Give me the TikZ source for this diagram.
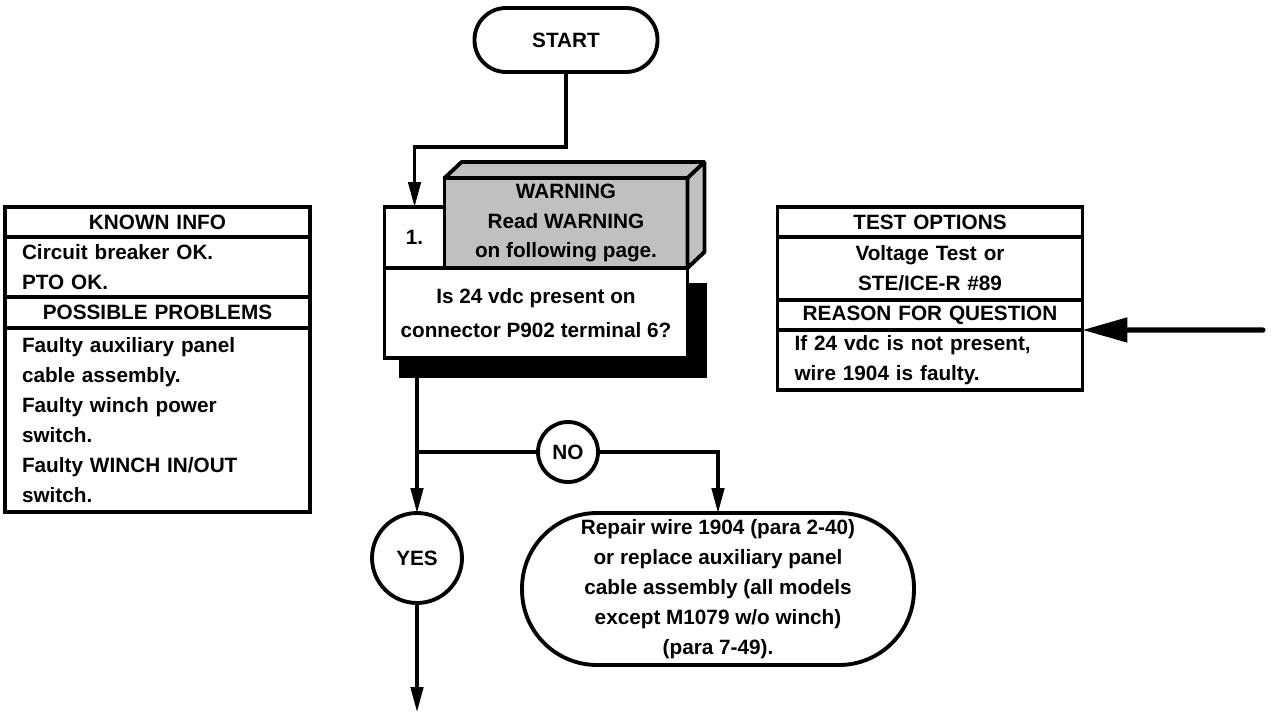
\documentclass[tikz,border=0pt]{standalone}
\usepackage{fontspec}
\setmainfont{Liberation Sans}
\usetikzlibrary{arrows.meta,positioning,calc,backgrounds}
\definecolor{cWarn}{HTML}{C0C0C0}

\begin{document}
\begin{tikzpicture}[
  x=0.02cm, y=-0.02cm,
  font=\fontsize{11.8pt}{17pt}\selectfont\bfseries,
  box/.style={draw, line width=2.2pt, outer sep=0pt, inner sep=0pt, align=center},
  terminal/.style={box, rounded corners=0.63cm, minimum width=3.66cm, minimum height=1.28cm},
  stepno/.style={box, minimum width=1.2cm, minimum height=1.22cm},
  warnbox/.style={box, fill=cWarn, minimum width=4.86cm, minimum height=1.8cm},
  quest/.style={box, fill=white, minimum width=6.06cm, minimum height=1.8cm},
  answer/.style={box, circle, minimum size=#1},
  repairbox/.style={box, rounded corners=1.5cm, minimum width=7.84cm, minimum height=3.04cm},
  infocell/.style={draw, line width=2.2pt, outer sep=0pt, inner ysep=0pt, inner xsep=0.34cm,
                   text width=5.42cm},
  infohead/.style={infocell, align=center, minimum height=0.6cm},
  infobody/.style={infocell, align=left},
  conn/.style={line width=1.8pt},
  arr/.style={conn, -{Triangle[length=0.5cm, width=0.25cm]}},
  bigarr/.style={line width=2.9pt, line cap=round, -{Triangle[length=0.9cm, width=0.48cm]}},
]
\useasboundingbox (0,0) rectangle (1273,713);

% ---------- start ----------
\node[terminal] (start) at (566,40) {START};

% ---------- step 1 ----------
\node[quest] (q) at (536,313) {Is 24 vdc present on\\[2pt]connector P902 terminal 6?};
\node[stepno, above right=0cm and 0cm of q.north west] (num) {1.};
\node[warnbox, anchor=south west] (warn) at (num.south east)
  {WARNING\\Read WARNING\\on following page.};
\filldraw[fill=cWarn, line width=2.2pt, line join=round]
  (warn.north west) -- ++(17,-16) -- ($(warn.north east)+(17,-16)$)
  -- ($(warn.south east)+(17,-16)$) -- (warn.south east) -- (warn.north east) -- cycle;
\draw[line width=2.2pt] (warn.north east) -- ++(17,-16);
\begin{scope}[on background layer]
  \fill ($(q.north west)+(14,15)$) rectangle ($(q.south east)+(20,20)$);
\end{scope}

% ---------- branches ----------
\coordinate (split) at (417,452);
\node[answer=1.2cm] (no) at (568,452) {NO};
\node[answer=1.8cm] (yes) at (417,558) {YES};
\node[repairbox] (repair) at (718,589)
  {Repair wire 1904 (para 2-40)\\or replace auxiliary panel\\cable assembly (all models\\
   except M1079 w/o winch)\\(para 7-49).};
\coordinate (exit) at (417,712);

% ---------- known info / problems ----------
\node[infohead] (known) at (157.5,222) {KNOWN INFO};
\node[infobody, minimum height=1.2cm, below=0cm of known] (facts)
  {Circuit breaker OK.\\PTO OK.};
\node[infohead, minimum height=0.62cm, below=0cm of facts] (probhead) {POSSIBLE PROBLEMS};
\node[infobody, minimum height=3.68cm, below=0cm of probhead] (probs)
  {Faulty auxiliary panel\\cable assembly.\\Faulty winch power\\switch.\\
   Faulty WINCH IN/OUT\\switch.};

% ---------- test options / reason ----------
\node[infohead] (tests) at (930,222) {TEST OPTIONS};
\node[infobody, align=center, minimum height=1.26cm, below=0cm of tests] (testlist)
  {Voltage Test or\\STE/ICE-R \#89};
\node[infohead, below=0cm of testlist] (reason) {REASON FOR QUESTION};
\node[infobody, minimum height=1.2cm, below=0cm of reason] (why)
  {If 24 vdc is not present,\\wire 1904 is faulty.};
\coordinate (feed) at (1263,330);

% ---------- arrows ----------
\draw[arr] (start.south) -- ++(0,75) -| (num.north);
\draw[conn] (split |- q.south) -- (split);
\draw[arr] (split) -- (yes);
\draw[conn] (split) -- (no);
\draw[arr] (no) -| (repair);
\draw[arr] (yes) -- (exit);
\draw[bigarr] (feed) -- (reason.south east);

\end{tikzpicture}
\end{document}
